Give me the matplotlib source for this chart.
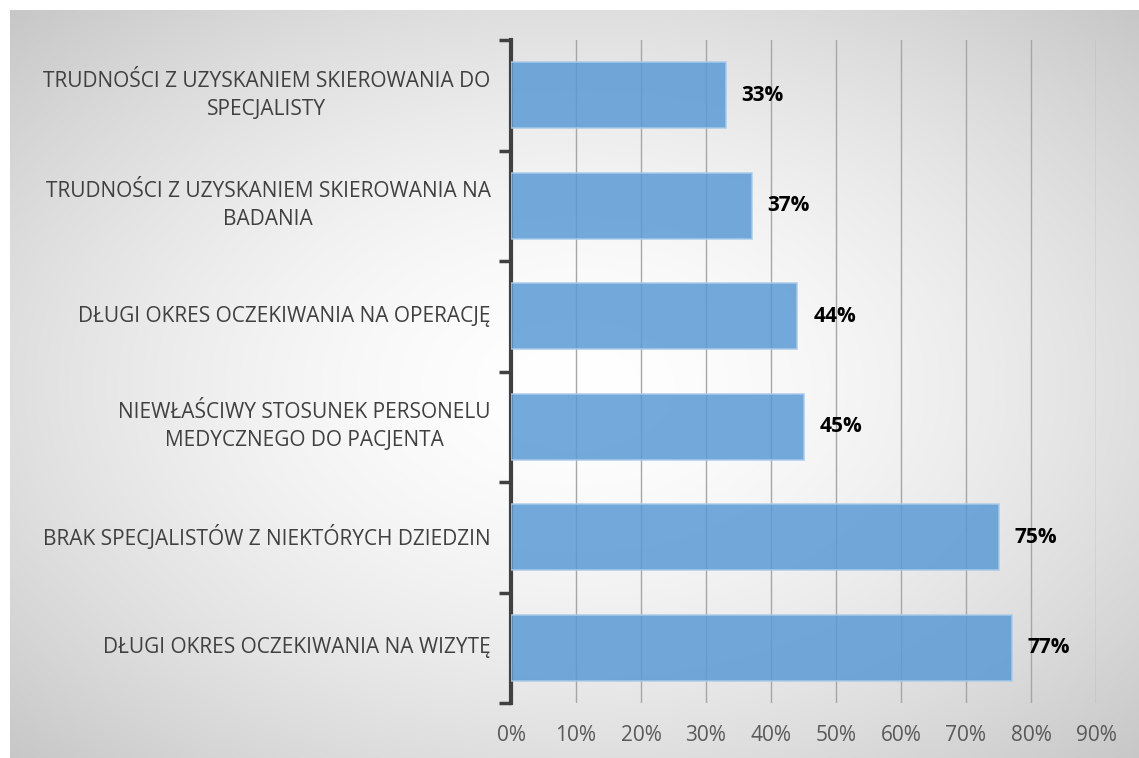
import numpy as np
import matplotlib.pyplot as plt

categories = [
    "TRUDNOŚCI Z UZYSKANIEM SKIEROWANIA DO\nSPECJALISTY",
    "TRUDNOŚCI Z UZYSKANIEM SKIEROWANIA NA\nBADANIA",
    "DŁUGI OKRES OCZEKIWANIA NA OPERACJĘ",
    "NIEWŁAŚCIWY STOSUNEK PERSONELU\nMEDYCZNEGO DO PACJENTA",
    "BRAK SPECJALISTÓW Z NIEKTÓRYCH DZIEDZIN",
    "DŁUGI OKRES OCZEKIWANIA NA WIZYTĘ",
]
values = [0.33, 0.37, 0.44, 0.45, 0.75, 0.77]
value_labels = ["33%", "37%", "44%", "45%", "75%", "77%"]
x_ticks = [0, 0.1, 0.2, 0.3, 0.4, 0.5, 0.6, 0.7, 0.8, 0.9]
x_tick_labels = ["0%", "10%", "20%", "30%", "40%", "50%", "60%", "70%", "80%", "90%"]

plt.rcParams['font.family'] = ['Open Sans', 'DejaVu Sans']

W, H = 1139, 758
fig = plt.figure(figsize=(W / 100, H / 100), dpi=100)

# radial gradient background (chart area)
bg = fig.add_axes([10 / W, 0, 1 - 10 / W, 1 - 10 / H])
yy, xx = np.mgrid[0:400, 0:600]
cx, cy = 300, 200
r = np.sqrt(((xx - cx) / cx) ** 2 + ((yy - cy) / cy) ** 2) / np.sqrt(2)
g = 1 - 0.22 * r ** 1.6
img = np.dstack([g, g, g])
bg.imshow(img, aspect='auto', extent=[0, 1, 0, 1], interpolation='bilinear')
bg.set_axis_off()

ax = fig.add_axes([511 / W, 1 - 703 / H, (1096 - 511) / W, (703 - 40) / H])
ax.patch.set_alpha(0)

y = np.arange(len(categories))
ax.barh(y, values, height=0.6, color='#5b9bd5', alpha=0.85,
        edgecolor='#a9cbea', linewidth=1.2, zorder=3)

for yi, v, lab in zip(y, values, value_labels):
    ax.text(v + 0.025, yi, lab, va='center', ha='left', fontsize=15,
            fontweight='bold', color='black', zorder=4)

ax.set_xlim(0, 0.9)
ax.set_ylim(len(categories) - 0.5, -0.5)
ax.set_xticks(x_ticks)
ax.set_xticklabels(x_tick_labels, fontsize=15, color='#595959')
ax.tick_params(axis='x', length=0, pad=16)
ax.grid(axis='x', color='#a6a6a6', linewidth=1.0, zorder=1)

ax.set_yticks(np.arange(-0.5, len(categories), 1.0))
ax.set_yticklabels([])
ax.tick_params(axis='y', direction='out', length=9, width=2.5, color='#404040')
for yi, cat in zip(y, categories):
    ax.text(-0.035, yi, cat, ha='right', va='center', multialignment='center',
            fontsize=15, color='#404040', linespacing=1.45,
            transform=ax.get_yaxis_transform())

for s in ['top', 'right', 'bottom']:
    ax.spines[s].set_visible(False)
ax.spines['left'].set_linewidth(3)
ax.spines['left'].set_color('#404040')

fig.savefig('out.png', dpi=100)
